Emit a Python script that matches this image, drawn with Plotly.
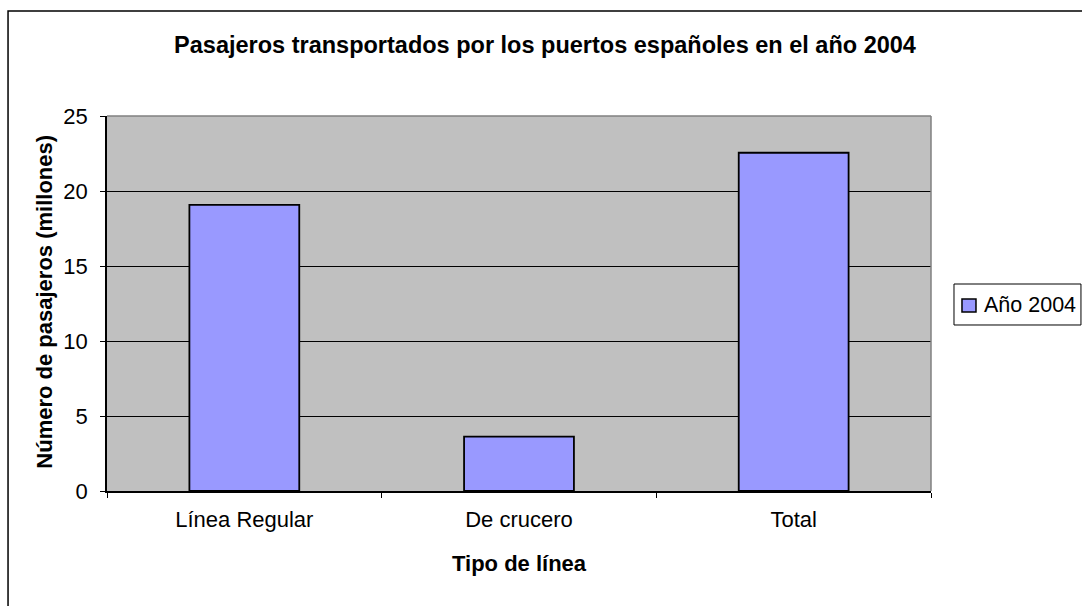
import plotly.graph_objects as go

categorias = ["Línea Regular", "De crucero", "Total"]
pasajeros = [19.07, 3.62, 22.55]
serie = "Año 2004"
titulo = "Pasajeros transportados por los puertos españoles en el año 2004"
titulo_x = "Tipo de línea"
titulo_y = "Número de pasajeros (millones)"

fuente = "Liberation Sans, Arial, sans-serif"
color_barra = "#9999FF"

fig = go.Figure()
fig.add_trace(go.Bar(x=categorias, y=pasajeros, name=serie,
                     marker=dict(color=color_barra,
                                 line=dict(color="#000000", width=1.8)),
                     showlegend=False))

# leyenda dibujada a mano para que quepa en el borde derecho como en Excel
fig.add_shape(type="rect", xref="paper", yref="paper",
              x0=1.0279, x1=1.182, y0=0.4427, y1=0.552,
              line=dict(color="#000000", width=1), fillcolor="white")
fig.add_shape(type="rect", xref="paper", yref="paper",
              x0=1.0376, x1=1.0546, y0=0.4773, y1=0.512,
              line=dict(color="#000000", width=1.5), fillcolor=color_barra)

fig.update_layout(
    width=1082, height=606,
    margin=dict(l=107, r=151, t=116, b=115, autoexpand=False),
    paper_bgcolor="white", plot_bgcolor="#C0C0C0",
    bargap=0.6,
    font=dict(family=fuente, size=22, color="#000000"),
    title=dict(text="<b>" + titulo + "</b>", x=0.5037, xanchor="center",
               y=0.9257, yanchor="middle", font=dict(size=23.5)),
    annotations=[
        dict(text="<b>" + titulo_y + "</b>", xref="paper", yref="paper",
             x=-0.0752, y=0.505, xanchor="center", yanchor="middle",
             textangle=-90, showarrow=False, font=dict(size=22)),
        dict(text="<b>" + titulo_x + "</b>", xref="paper", yref="paper",
             x=0.5, y=-0.192, xanchor="center", yanchor="middle",
             showarrow=False, font=dict(size=22)),
        dict(text=serie, xref="paper", yref="paper",
             x=1.0619, y=0.496, xanchor="left", yanchor="middle",
             showarrow=False, font=dict(size=21.5)),
    ],
)
fig.add_shape(type="rect", xref="paper", yref="paper",
              x0=-0.1201, x1=1.3, y0=-0.5, y1=1.28,
              line=dict(color="#000000", width=1.5), layer="below")

fig.update_xaxes(showgrid=False, showline=True, linecolor="#000000",
                 linewidth=1.5, ticks="outside", tickson="boundaries",
                 ticklen=5, tickcolor="#000000", mirror=False,
                 ticklabelstandoff=8)
fig.update_yaxes(range=[0, 25], dtick=5, showgrid=True, gridcolor="#000000",
                 gridwidth=1, showline=True, linecolor="#000000",
                 linewidth=1.5, ticks="outside", ticklen=5,
                 tickcolor="#000000", zeroline=False, ticklabelstandoff=8)

# borde gris superior y derecho del area de trazado
fig.add_shape(type="line", xref="paper", yref="paper", x0=0, x1=1, y0=1, y1=1,
              line=dict(color="#808080", width=1.5))
fig.add_shape(type="line", xref="paper", yref="paper", x0=1, x1=1, y0=0, y1=1,
              line=dict(color="#808080", width=1.5))

# sin margen en el body para que la figura ocupe la ventana exacta
fig.write_html("out.html", config={"displayModeBar": False},
               post_script="document.body.style.margin = '0px';")
